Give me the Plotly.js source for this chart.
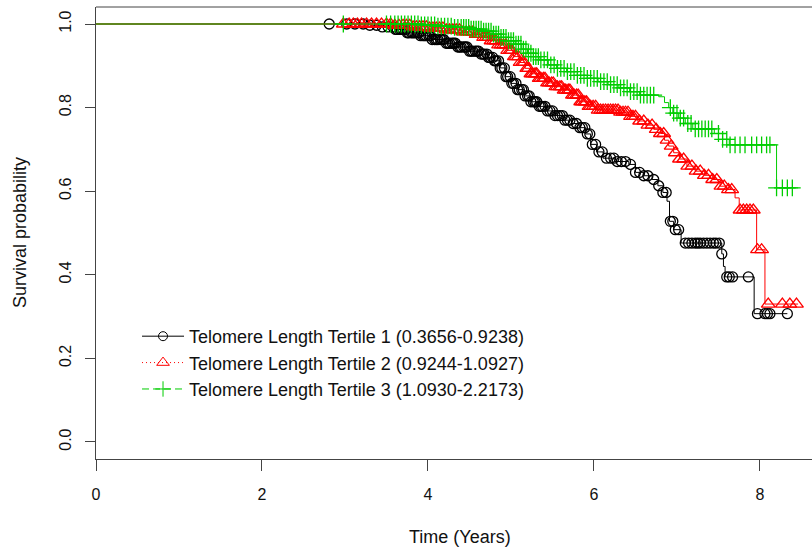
<!DOCTYPE html>
<html>
<head>
<meta charset="utf-8">
<script src="https://cdn.plot.ly/plotly-3.0.1.min.js"></script>
<style>html,body{margin:0;padding:0;background:#fff;}#chart{width:812px;height:550px;}</style>
</head>
<body>
<div id="chart"></div>
<script>
// Kaplan-Meier step knots (time in years, survival after the step)
var t1 = [0, 3.3, 3.45, 3.6, 3.75, 3.9, 4.05, 4.2, 4.35, 4.5, 4.62, 4.72, 4.8, 4.87, 4.93, 5.0, 5.08, 5.16, 5.24, 5.33, 5.43, 5.53, 5.63, 5.73, 5.83, 5.9, 5.96, 6.03, 6.11, 6.25, 6.42, 6.5, 6.6, 6.7, 6.77, 6.83, 6.88, 6.91, 6.96, 7.05, 7.54, 7.56, 7.58, 7.93, 8.33];
var s1 = [1, 0.997, 0.993, 0.987, 0.979, 0.972, 0.963, 0.954, 0.945, 0.935, 0.928, 0.92, 0.912, 0.895, 0.874, 0.858, 0.843, 0.828, 0.814, 0.803, 0.792, 0.781, 0.77, 0.762, 0.752, 0.737, 0.712, 0.694, 0.679, 0.671, 0.664, 0.645, 0.637, 0.628, 0.613, 0.597, 0.576, 0.528, 0.508, 0.476, 0.45, 0.42, 0.395, 0.307, 0.307];

var t2 = [0, 3.6, 3.8, 4.0, 4.2, 4.4, 4.55, 4.65, 4.75, 4.85, 4.95, 5.03, 5.1, 5.17, 5.24, 5.32, 5.42, 5.52, 5.62, 5.72, 5.82, 5.92, 6.03, 6.3, 6.42, 6.52, 6.62, 6.72, 6.8, 6.85, 6.9, 6.96, 7.03, 7.12, 7.22, 7.33, 7.43, 7.52, 7.6, 7.7, 7.75, 7.96, 8.06, 8.46];
var s2 = [1, 0.997, 0.993, 0.99, 0.986, 0.981, 0.975, 0.968, 0.96, 0.95, 0.937, 0.922, 0.908, 0.894, 0.881, 0.87, 0.859, 0.85, 0.842, 0.83, 0.814, 0.803, 0.794, 0.789, 0.779, 0.768, 0.758, 0.748, 0.738, 0.722, 0.708, 0.692, 0.677, 0.66, 0.648, 0.638, 0.628, 0.612, 0.604, 0.584, 0.555, 0.46, 0.33, 0.33];

var t3 = [0, 3.9, 4.1, 4.3, 4.5, 4.65, 4.78, 4.88, 4.97, 5.05, 5.13, 5.2, 5.27, 5.35, 5.45, 5.55, 5.67, 5.8, 5.92, 6.05, 6.17, 6.3, 6.43, 6.55, 6.78, 6.85, 6.9, 6.95, 7.02, 7.1, 7.19, 7.45, 7.55, 7.63, 8.2, 8.46];
var s3 = [1, 0.998, 0.995, 0.992, 0.988, 0.983, 0.976, 0.968, 0.96, 0.952, 0.94, 0.93, 0.922, 0.914, 0.902, 0.894, 0.886, 0.877, 0.87, 0.862, 0.855, 0.847, 0.838, 0.83, 0.826, 0.812, 0.8, 0.787, 0.775, 0.762, 0.749, 0.738, 0.724, 0.711, 0.608, 0.608];

// censoring times
var c1 = [2.81, 3.02, 3.12, 3.22, 3.3, 3.38, 3.45, 3.52, 3.58, 3.61, 3.63, 3.66, 3.68, 3.7, 3.73, 3.75, 3.77, 3.8, 3.82, 3.84, 3.87, 3.89, 3.91, 3.94, 3.96, 3.98, 4.01, 4.03, 4.05, 4.08, 4.1, 4.12, 4.15, 4.17, 4.19, 4.22, 4.24, 4.26, 4.29, 4.31, 4.33, 4.36, 4.38, 4.4, 4.43, 4.45, 4.47, 4.5, 4.52, 4.54, 4.57, 4.59, 4.61, 4.64, 4.66, 4.68, 4.71, 4.73, 4.75, 4.78, 4.8, 4.82, 4.85, 4.87, 4.89, 4.92, 4.94, 4.96, 4.99, 5.01, 5.03, 5.06, 5.08, 5.1, 5.13, 5.15, 5.17, 5.2, 5.22, 5.24, 5.27, 5.29, 5.31, 5.34, 5.36, 5.38, 5.41, 5.44, 5.47, 5.5, 5.53, 5.56, 5.59, 5.62, 5.65, 5.68, 5.71, 5.75, 5.79, 5.83, 5.86, 5.89, 5.92, 5.95, 5.98, 6.02, 6.06, 6.1, 6.15, 6.2, 6.24, 6.28, 6.33, 6.38, 6.44, 6.5, 6.55, 6.6, 6.65, 6.72, 6.78, 6.83, 6.87, 6.92, 6.95, 6.98, 7.02, 7.1, 7.14, 7.18, 7.22, 7.25, 7.28, 7.32, 7.36, 7.4, 7.44, 7.47, 7.51, 7.54, 7.6, 7.63, 7.67, 7.86, 7.97, 8.06, 8.09, 8.12, 8.33];
var c2 = [2.98, 3.05, 3.1, 3.15, 3.2, 3.26, 3.32, 3.38, 3.44, 3.5, 3.55, 3.6, 3.65, 3.7, 3.74, 3.78, 3.82, 3.86, 3.9, 3.94, 3.98, 4.02, 4.06, 4.1, 4.14, 4.18, 4.22, 4.26, 4.3, 4.34, 4.38, 4.42, 4.46, 4.5, 4.54, 4.58, 4.61, 4.64, 4.67, 4.7, 4.73, 4.76, 4.79, 4.82, 4.85, 4.88, 4.91, 4.94, 4.96, 4.99, 5.01, 5.04, 5.06, 5.09, 5.11, 5.14, 5.16, 5.19, 5.21, 5.24, 5.26, 5.29, 5.31, 5.34, 5.36, 5.39, 5.41, 5.44, 5.46, 5.49, 5.51, 5.54, 5.56, 5.59, 5.61, 5.64, 5.66, 5.69, 5.71, 5.74, 5.76, 5.79, 5.81, 5.84, 5.86, 5.89, 5.91, 5.94, 5.96, 5.99, 6.02, 6.05, 6.08, 6.11, 6.14, 6.17, 6.2, 6.23, 6.26, 6.29, 6.32, 6.35, 6.38, 6.41, 6.44, 6.47, 6.5, 6.55, 6.6, 6.65, 6.7, 6.75, 6.8, 6.84, 6.88, 6.93, 6.98, 7.03, 7.08, 7.13, 7.18, 7.23, 7.28, 7.33, 7.38, 7.43, 7.48, 7.53, 7.57, 7.62, 7.66, 7.76, 7.8, 7.84, 7.88, 7.92, 7.97, 8.02, 8.1, 8.27, 8.36, 8.44];
var c3 = [2.98, 3.5, 3.55, 3.6, 3.64, 3.68, 3.72, 3.76, 3.8, 3.84, 3.88, 3.92, 3.96, 4.0, 4.04, 4.08, 4.12, 4.16, 4.2, 4.24, 4.28, 4.32, 4.36, 4.4, 4.43, 4.46, 4.49, 4.52, 4.55, 4.58, 4.61, 4.64, 4.67, 4.7, 4.73, 4.76, 4.79, 4.82, 4.85, 4.88, 4.91, 4.94, 4.97, 5.0, 5.03, 5.06, 5.09, 5.12, 5.15, 5.18, 5.21, 5.24, 5.27, 5.3, 5.33, 5.36, 5.4, 5.44, 5.48, 5.52, 5.56, 5.6, 5.64, 5.68, 5.72, 5.76, 5.8, 5.84, 5.88, 5.92, 5.96, 6.0, 6.04, 6.08, 6.12, 6.16, 6.2, 6.24, 6.28, 6.32, 6.36, 6.4, 6.44, 6.48, 6.52, 6.56, 6.6, 6.64, 6.68, 6.72, 6.92, 6.96, 7.0, 7.04, 7.08, 7.13, 7.17, 7.22, 7.26, 7.3, 7.34, 7.38, 7.42, 7.5, 7.55, 7.6, 7.64, 7.7, 7.76, 7.82, 7.9, 7.96, 8.02, 8.08, 8.12, 8.2, 8.27, 8.33, 8.39];

var names = ['Telomere Length Tertile 1 (0.3656-0.9238)', 'Telomere Length Tertile 2 (0.9244-1.0927)', 'Telomere Length Tertile 3 (1.0930-2.2173)'];
var xTicks = [0, 2, 4, 6, 8];
var yTicks = [0, 0.2, 0.4, 0.6, 0.8, 1.0];
var yTickText = ['0.0', '0.2', '0.4', '0.6', '0.8', '1.0'];

function survAt(ts, ss, t) {
  var v = ss[0];
  for (var i = 0; i < ts.length; i++) { if (ts[i] <= t) v = ss[i]; else break; }
  return v;
}

var groups = [
  {t: t1, s: s1, c: c1, color: '#000000', symbol: 'circle-open', size: 10, dash: 'solid'},
  {t: t2, s: s2, c: c2, color: '#FF0000', symbol: 'triangle-up-open', size: 12, dash: '1px,3px'},
  {t: t3, s: s3, c: c3, color: '#00CD00', symbol: 'cross-thin-open', size: 12, dash: '7px,4px'}
];

var data = [];
groups.forEach(function (g, i) {
  data.push({x: g.t, y: g.s, type: 'scatter', mode: 'lines', line: {shape: 'hv', color: g.color, width: 1}, showlegend: false, hoverinfo: 'skip'});
  data.push({x: g.c, y: g.c.map(function (t) { return survAt(g.t, g.s, t); }), type: 'scatter', mode: 'markers',
    marker: {symbol: g.symbol, size: g.size, color: g.color, line: {color: g.color, width: 1.3}}, showlegend: false, hoverinfo: 'skip'});
});
groups.forEach(function (g, i) {
  data.push({x: [null], y: [null], type: 'scatter', mode: 'lines+markers', name: names[i],
    line: {color: g.color, width: 1, dash: g.dash},
    marker: {symbol: g.symbol, size: g.size - 1, color: g.color, line: {color: g.color, width: 1}}});
});

var fam = 'Liberation Sans, Arial, sans-serif';
var tickFont = {family: fam, size: 16, color: '#111'};
var bigFont = {family: fam, size: 18, color: '#111'};
var layout = {
  width: 812, height: 550,
  margin: {l: 96, r: 0, t: 7, b: 91},
  paper_bgcolor: '#fff', plot_bgcolor: '#fff',
  font: bigFont,
  showlegend: true,
  legend: {x: 0.0573, y: 0.312, xanchor: 'left', yanchor: 'top', bgcolor: 'rgba(0,0,0,0)', borderwidth: 0, font: bigFont, itemwidth: 42, tracegroupgap: 0},
  xaxis: {range: [0, 8.627], tickvals: xTicks, ticktext: xTicks.map(String), showgrid: false, zeroline: false,
    showline: true, linecolor: '#444', linewidth: 1, ticks: 'outside', ticklen: 11, tickcolor: '#444', tickwidth: 1,
    tickfont: tickFont, ticklabelstandoff: 10, fixedrange: true},
  yaxis: {range: [-0.0407, 1.0407], tickvals: yTicks, ticktext: yTickText, showgrid: false, zeroline: false,
    showline: true, linecolor: '#444', linewidth: 1, ticks: 'outside', ticklen: 10, tickcolor: '#444', tickwidth: 1,
    tickfont: tickFont, tickangle: -90, ticklabelstandoff: 8, fixedrange: true},
  shapes: [{type: 'line', xref: 'paper', yref: 'paper', x0: 0, x1: 1, y0: 1, y1: 1, line: {color: '#444', width: 1}}],
  annotations: [
    {text: 'Time (Years)', xref: 'paper', yref: 'paper', x: 0.508, y: 0, yshift: -78, xanchor: 'center', yanchor: 'middle', showarrow: false, font: bigFont},
    {text: 'Survival probability', xref: 'paper', yref: 'paper', x: 0, xshift: -76, y: 0.5, textangle: -90, xanchor: 'center', yanchor: 'middle', showarrow: false, font: bigFont}
  ]
};
Plotly.newPlot('chart', data, layout, {staticPlot: true, displayModeBar: false});
</script>
</body>
</html>
